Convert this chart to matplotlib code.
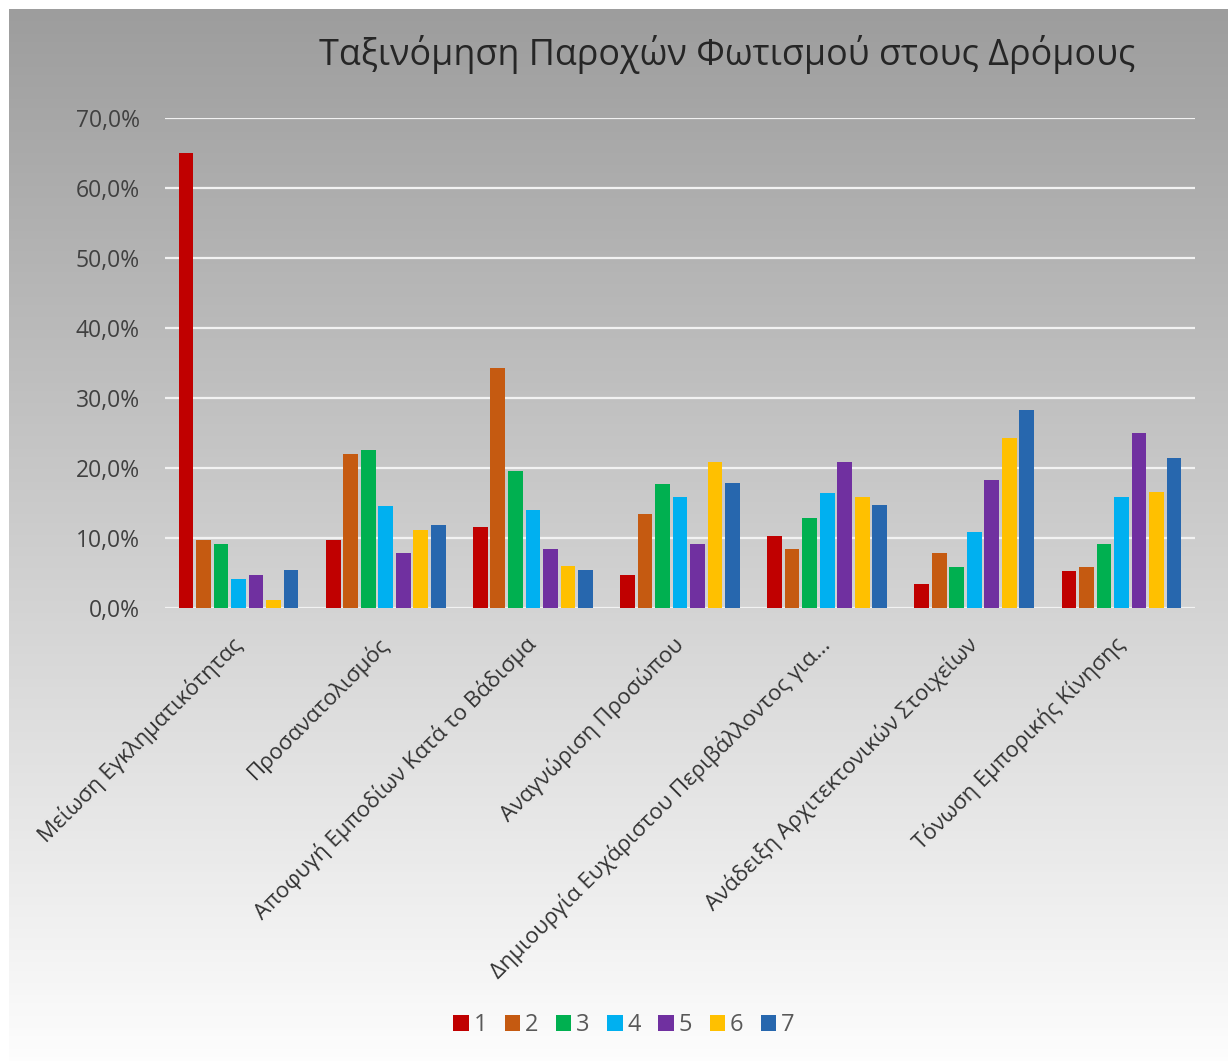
import numpy as np
import matplotlib.pyplot as plt
from matplotlib.patches import Patch
from matplotlib.ticker import FuncFormatter

plt.rcParams['font.family'] = ['Open Sans', 'DejaVu Sans']

categories = [
    'Μείωση Εγκληματικότητας',
    'Προσανατολισμός',
    'Αποφυγή Εμποδίων Κατά το Βάδισμα',
    'Αναγνώριση Προσώπου',
    'Δημιουργία Ευχάριστου Περιβάλλοντος για...',
    'Ανάδειξη Αρχιτεκτονικών Στοιχείων',
    'Τόνωση Εμπορικής Κίνησης',
]
series_names = ['1', '2', '3', '4', '5', '6', '7']

# percent of answers per rank, one list per rank, across categories
rank1 = [65.0, 9.7, 11.6, 4.7, 10.3, 3.4, 5.3]
rank2 = [9.7, 22.0, 34.3, 13.4, 8.4, 7.8, 5.9]
rank3 = [9.1, 22.6, 19.6, 17.7, 12.8, 5.9, 9.1]
rank4 = [4.1, 14.6, 14.0, 15.9, 16.5, 10.8, 15.9]
rank5 = [4.7, 7.8, 8.4, 9.1, 20.8, 18.3, 25.0]
rank6 = [1.2, 11.1, 6.0, 20.8, 15.9, 24.3, 16.6]
rank7 = [5.4, 11.8, 5.4, 17.9, 14.7, 28.3, 21.5]
ranks = [rank1, rank2, rank3, rank4, rank5, rank6, rank7]

colors = ['#C00000', '#C55A11', '#00B050', '#00B0F0', '#7030A0', '#FFC000', '#2767AE']
text_color = '#404040'

W, H = 1228, 1061
fig = plt.figure(figsize=(W / 100, H / 100), dpi=100)
fig.patch.set_facecolor('white')

# gradient background of the chart area
bg = fig.add_axes([9 / W, 0, 1 - 9 / W, 1 - 9 / H], zorder=-10)
grad = np.linspace(157, 253, 256)[:, None] / 255.0
bg.imshow(np.dstack([grad, grad, grad]), aspect='auto', extent=[0, 1, 0, 1])
bg.set_axis_off()

ax = fig.add_axes([165 / W, 1 - 608 / H, (1195 - 165) / W, (608 - 118) / H])
ax.patch.set_alpha(0)

x = np.arange(len(categories))
slot = 0.119
width = 0.1
for i, vals in enumerate(ranks):
    ax.bar(x + (i - 3) * slot, np.array(vals) / 100, width=width,
           color=colors[i], label=series_names[i], zorder=3)

ax.set_xlim(-0.5, len(categories) - 0.5)
ax.set_ylim(0, 0.7)
ax.set_yticks(np.arange(0, 0.71, 0.1))
ax.yaxis.set_major_formatter(FuncFormatter(lambda v, _: f'{v * 100:.1f}%'.replace('.', ',')))
ax.grid(axis='y', color='#f2f2f2', linewidth=1.6, zorder=0)
ax.set_axisbelow(True)
for s in ax.spines.values():
    s.set_visible(False)
ax.tick_params(axis='both', length=0, colors=text_color)
ax.tick_params(axis='y', pad=18, labelsize=16.5)

ax.set_xticks(x)
ax.set_xticklabels(categories, rotation=45, ha='right', va='center',
                   rotation_mode='anchor', fontsize=16, color='#333333')
ax.tick_params(axis='x', pad=24)

fig.text(727 / W, 1 - 55 / H, 'Ταξινόμηση Παροχών Φωτισμού στους Δρόμους',
         ha='center', va='center', fontsize=25.8, color='#262626')

handles = [Patch(facecolor=c, label=n) for c, n in zip(colors, series_names)]
fig.legend(handles=handles, loc='center', bbox_to_anchor=(624 / W, 1 - 1025 / H),
           ncol=7, frameon=False, fontsize=17, handlelength=0.65, handleheight=0.65,
           handletextpad=0.2, columnspacing=0.75, labelcolor='#595959')

fig.savefig('out.png', dpi=100)
